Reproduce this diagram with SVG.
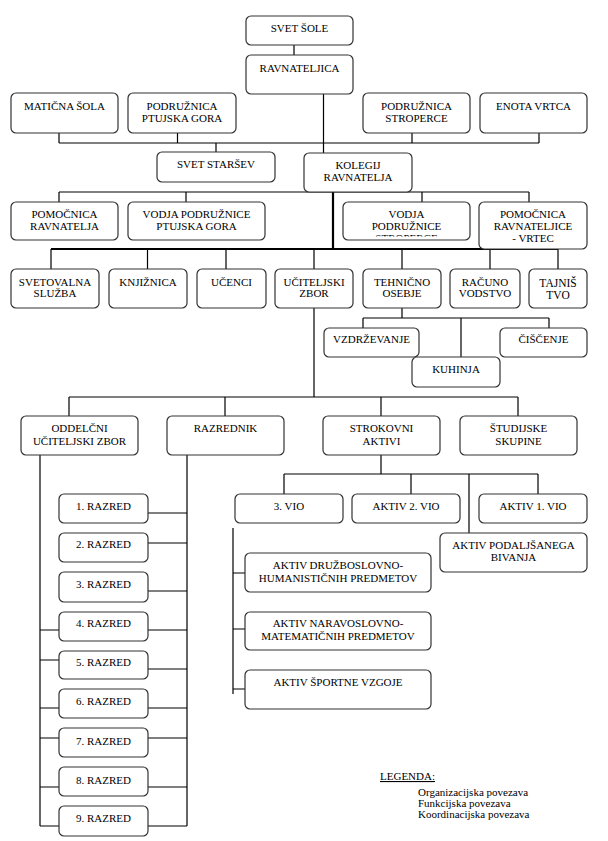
<svg xmlns="http://www.w3.org/2000/svg" width="608" height="841" viewBox="0 0 608 841">
<style>
.box{fill:#fff;stroke:#333;stroke-width:1.2}
.t{font-family:'Liberation Serif','Times New Roman',serif;font-size:11px;text-anchor:middle;fill:#000}
.lg{font-family:'Liberation Serif','Times New Roman',serif;font-size:11px;fill:#000}
.ln{stroke:#000;stroke-width:1.2;fill:none}
.thick{stroke:#000;stroke-width:2.2;fill:none}
</style>
<defs>
<clipPath id="clipStrop"><rect x="343" y="201" width="127" height="35.5"/></clipPath>
</defs>
<rect width="608" height="841" fill="#fff"/>
<g id="connectors">
<path class="ln" d="M294 45V55M323.5 94V153"/>
<path class="ln" d="M59 143H539M59 133V143M177.5 133V143M412 133V143M539 133V143M216 143V152"/>
<path class="ln" d="M59 192H529M59 192V202M186 192V202M422 192V202M529 192V202"/>
<path class="thick" d="M333 192V249M51 249H558"/>
<path class="ln" d="M51 249V269M147.5 249V269M226 249V269M314 249V269M402 249V269M490 249V269M558 249V269"/>
<path class="ln" d="M402 308V318M363 318H549M363 318V328M461 318V357M549 318V328"/>
<path class="ln" d="M314 308V397M69 397H518M69 397V416M225 397V416M381 397V416M518 397V416"/>
<path class="ln" d="M40 455V826M40 630H59M40 660H59M40 708H59M40 738H59M40 787H59M40 826H59"/>
<path class="ln" d="M187 455V826M148 513H187M148 543H187M148 591H187M148 630H187M148 669H187M148 708H187M148 738H187M148 787H187M148 826H187"/>
<path class="ln" d="M381 455V474M284 474H538M284 474V494M411 474V494M469 474V533M538 474V494"/>
<path class="ln" d="M233 528V694M233 573H245M233 629H245M233 689H245"/>
</g>
<g id="svet-sole"><rect class="box" x="246" y="16" width="107" height="29" rx="5"/><text class="t" x="299.5" y="32">SVET ŠOLE</text></g>
<g id="ravnateljica"><rect class="box" x="246" y="55" width="107" height="39" rx="5"/><text class="t" x="299.5" y="72">RAVNATELJICA</text></g>
<g id="maticna-sola"><rect class="box" x="11" y="93" width="107" height="40" rx="5"/><text class="t" x="64.5" y="110">MATIČNA ŠOLA</text></g>
<g id="podr-ptujska"><rect class="box" x="128" y="93" width="108" height="40" rx="5"/><text class="t" x="182" y="110">PODRUŽNICA</text><text class="t" x="182" y="122">PTUJSKA GORA</text></g>
<g id="podr-stroperce"><rect class="box" x="363" y="93" width="107" height="40" rx="5"/><text class="t" x="416.5" y="110">PODRUŽNICA</text><text class="t" x="416.5" y="122">STROPERCE</text></g>
<g id="enota-vrtca"><rect class="box" x="480" y="93" width="107" height="40" rx="5"/><text class="t" x="533.5" y="110">ENOTA VRTCA</text></g>
<g id="svet-starsev"><rect class="box" x="157" y="152" width="118" height="30" rx="5"/><text class="t" x="216" y="168">SVET STARŠEV</text></g>
<g id="kolegij"><rect class="box" x="304" y="153" width="108" height="39" rx="5"/><text class="t" x="358" y="169">KOLEGIJ</text><text class="t" x="358" y="181">RAVNATELJA</text></g>
<g id="pomocnica-ravnatelja"><rect class="box" x="11" y="202" width="107" height="38" rx="5"/><text class="t" x="64.5" y="218">POMOČNICA</text><text class="t" x="64.5" y="230">RAVNATELJA</text></g>
<g id="vodja-ptujska"><rect class="box" x="128" y="202" width="137" height="38" rx="5"/><text class="t" x="196.5" y="218">VODJA PODRUŽNICE</text><text class="t" x="196.5" y="230">PTUJSKA GORA</text></g>
<g id="vodja-stroperce"><rect class="box" x="343" y="202" width="127" height="38" rx="5"/><text class="t" x="406.5" y="218">VODJA</text><text class="t" x="406.5" y="230">PODRUŽNICE</text><text class="t" x="406.5" y="242" clip-path="url(#clipStrop)">STROPERCE</text></g>
<g id="pomocnica-vrtec"><rect class="box" x="479" y="202" width="108" height="47" rx="5"/><text class="t" x="533" y="218">POMOČNICA</text><text class="t" x="533" y="230">RAVNATELJICE</text><text class="t" x="533" y="242">- VRTEC</text></g>
<g id="svetovalna"><rect class="box" x="11" y="269" width="88" height="39" rx="5"/><text class="t" x="55" y="285.5">SVETOVALNA</text><text class="t" x="55" y="297">SLUŽBA</text></g>
<g id="knjiznica"><rect class="box" x="109" y="269" width="78" height="39" rx="5"/><text class="t" x="148" y="285.5">KNJIŽNICA</text></g>
<g id="ucenci"><rect class="box" x="197" y="269" width="69" height="39" rx="5"/><text class="t" x="231.5" y="285.5">UČENCI</text></g>
<g id="uciteljski-zbor"><rect class="box" x="275" y="269" width="78" height="39" rx="5"/><text class="t" x="314" y="285.5">UČITELJSKI</text><text class="t" x="314" y="297">ZBOR</text></g>
<g id="tehnicno-osebje"><rect class="box" x="363" y="269" width="78" height="39" rx="5"/><text class="t" x="402" y="285.5">TEHNIČNO</text><text class="t" x="402" y="297">OSEBJE</text></g>
<g id="racunovodstvo"><rect class="box" x="450" y="269" width="70" height="39" rx="5"/><text class="t" x="485" y="285.5">RAČUNO</text><text class="t" x="485" y="297">VODSTVO</text></g>
<g id="tajnistvo"><rect class="box" x="529" y="269" width="58" height="39" rx="5"/><text class="t" x="558" y="287" style="font-size:11.5px">TAJNIŠ</text><text class="t" x="558" y="299" style="font-size:11.5px">TVO</text></g>
<g id="vzdrzevanje"><rect class="box" x="324" y="328" width="95" height="29" rx="5"/><text class="t" x="371.5" y="343">VZDRŽEVANJE</text></g>
<g id="ciscenje"><rect class="box" x="500" y="328" width="87" height="29" rx="5"/><text class="t" x="543.5" y="343">ČIŠČENJE</text></g>
<g id="kuhinja"><rect class="box" x="412" y="357" width="88" height="30" rx="5"/><text class="t" x="456" y="373">KUHINJA</text></g>
<g id="oddelcni"><rect class="box" x="21" y="416" width="117" height="39" rx="5"/><text class="t" x="79.5" y="432">ODDELČNI</text><text class="t" x="79.5" y="445">UČITELJSKI ZBOR</text></g>
<g id="razrednik"><rect class="box" x="167" y="416" width="117" height="39" rx="5"/><text class="t" x="225.5" y="432">RAZREDNIK</text></g>
<g id="strokovni-aktivi"><rect class="box" x="323" y="416" width="117" height="39" rx="5"/><text class="t" x="381.5" y="432">STROKOVNI</text><text class="t" x="381.5" y="445">AKTIVI</text></g>
<g id="studijske-skupine"><rect class="box" x="460" y="416" width="117" height="39" rx="5"/><text class="t" x="518.5" y="432">ŠTUDIJSKE</text><text class="t" x="518.5" y="445">SKUPINE</text></g>
<g id="vio3"><rect class="box" x="235" y="494" width="108" height="29" rx="5"/><text class="t" x="289" y="510">3. VIO</text></g>
<g id="aktiv-vio2"><rect class="box" x="352" y="494" width="108" height="29" rx="5"/><text class="t" x="406" y="510">AKTIV 2. VIO</text></g>
<g id="aktiv-vio1"><rect class="box" x="479" y="494" width="108" height="29" rx="5"/><text class="t" x="533" y="510">AKTIV 1. VIO</text></g>
<g id="aktiv-podaljsanega"><rect class="box" x="440" y="533" width="147" height="39" rx="5"/><text class="t" x="513.5" y="549">AKTIV PODALJŠANEGA</text><text class="t" x="513.5" y="561">BIVANJA</text></g>
<g id="aktiv-druzboslovno"><rect class="box" x="245" y="553" width="186" height="39" rx="5"/><text class="t" x="338" y="569">AKTIV DRUŽBOSLOVNO-</text><text class="t" x="338" y="582">HUMANISTIČNIH PREDMETOV</text></g>
<g id="aktiv-naravoslovno"><rect class="box" x="245" y="612" width="186" height="38" rx="5"/><text class="t" x="338" y="627">AKTIV NARAVOSLOVNO-</text><text class="t" x="338" y="640">MATEMATIČNIH PREDMETOV</text></g>
<g id="aktiv-sportne"><rect class="box" x="245" y="670" width="186" height="39" rx="5"/><text class="t" x="338" y="686">AKTIV ŠPORTNE VZGOJE</text></g>
<g id="razred1"><rect class="box" x="59" y="494" width="89" height="29" rx="5"/><text class="t" x="103.5" y="510">1. RAZRED</text></g>
<g id="razred2"><rect class="box" x="59" y="533" width="89" height="29" rx="5"/><text class="t" x="103.5" y="548">2. RAZRED</text></g>
<g id="razred3"><rect class="box" x="59" y="572" width="89" height="30" rx="5"/><text class="t" x="103.5" y="588">3. RAZRED</text></g>
<g id="razred4"><rect class="box" x="59" y="612" width="89" height="29" rx="5"/><text class="t" x="103.5" y="627">4. RAZRED</text></g>
<g id="razred5"><rect class="box" x="59" y="651" width="89" height="28" rx="5"/><text class="t" x="103.5" y="666">5. RAZRED</text></g>
<g id="razred6"><rect class="box" x="59" y="689" width="89" height="29" rx="5"/><text class="t" x="103.5" y="705">6. RAZRED</text></g>
<g id="razred7"><rect class="box" x="59" y="728" width="89" height="29" rx="5"/><text class="t" x="103.5" y="745">7. RAZRED</text></g>
<g id="razred8"><rect class="box" x="59" y="767" width="89" height="29" rx="5"/><text class="t" x="103.5" y="784">8. RAZRED</text></g>
<g id="razred9"><rect class="box" x="59" y="806" width="89" height="30" rx="5"/><text class="t" x="103.5" y="822">9. RAZRED</text></g>
<g id="legend">
<text class="lg" x="380" y="780" text-decoration="underline">LEGENDA:</text>
<text class="lg" x="418" y="796">Organizacijska povezava</text>
<text class="lg" x="418" y="807">Funkcijska povezava</text>
<text class="lg" x="418" y="818">Koordinacijska povezava</text>
</g>
</svg>
